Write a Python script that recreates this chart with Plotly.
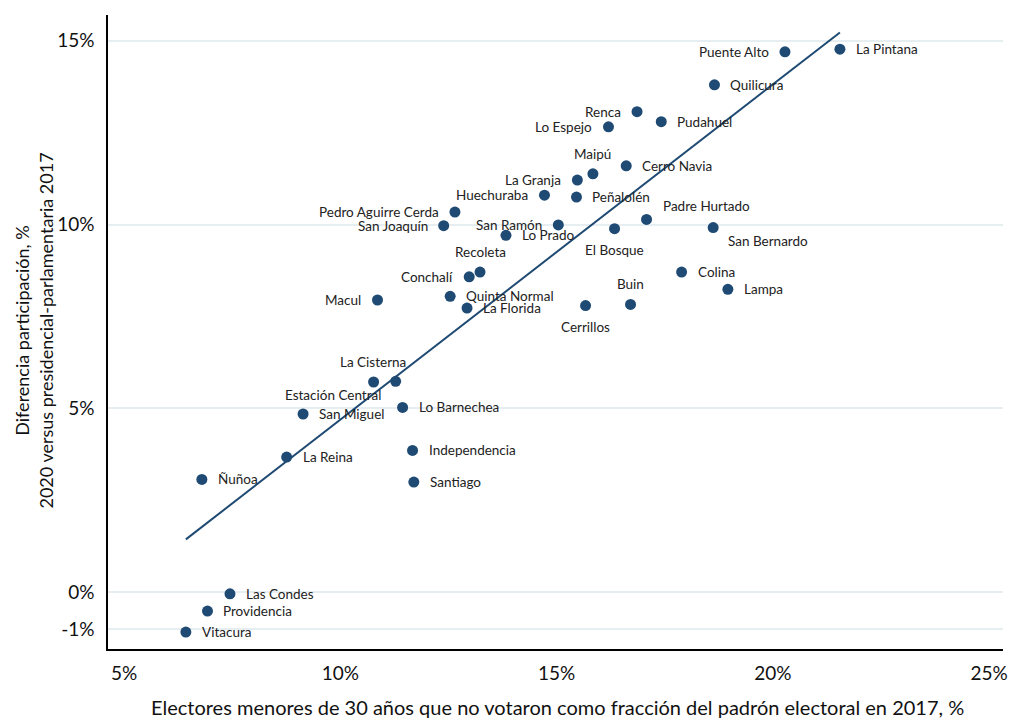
import numpy as np
import plotly.graph_objects as go

# Comunas de la Región Metropolitana
comunas = [
    "La Pintana", "Puente Alto", "Quilicura", "Renca", "Pudahuel", "Lo Espejo",
    "Cerro Navia", "Maipú", "La Granja", "Huechuraba", "Peñalolén",
    "Pedro Aguirre Cerda", "San Joaquín", "San Ramón", "Lo Prado", "El Bosque",
    "Padre Hurtado", "San Bernardo", "Recoleta", "Conchalí", "Macul",
    "Quinta Normal", "La Florida", "Cerrillos", "Buin", "Colina", "Lampa",
    "Estación Central", "La Cisterna", "Lo Barnechea", "San Miguel", "La Reina",
    "Ñuñoa", "Independencia", "Santiago", "Las Condes", "Providencia", "Vitacura",
]

# Electores menores de 30 años que no votaron (% del padrón 2017)
no_votaron_jovenes = [
    21.55, 20.28, 18.65, 16.86, 17.42, 16.20,
    16.61, 15.84, 15.48, 14.72, 15.46,
    12.65, 12.39, 15.04, 13.83, 16.34,
    17.08, 18.62, 13.23, 12.98, 10.86,
    12.54, 12.93, 15.67, 16.71, 17.89, 18.96,
    10.77, 11.28, 11.44, 9.14, 8.76,
    6.80, 11.67, 11.70, 7.45, 6.93, 6.43,
]

# Diferencia de participación 2020 vs 2017 (%)
dif_participacion = [
    14.77, 14.70, 13.80, 13.07, 12.80, 12.66,
    11.60, 11.38, 11.21, 10.80, 10.75,
    10.34, 9.97, 9.99, 9.71, 9.89,
    10.14, 9.92, 8.71, 8.58, 7.95,
    8.05, 7.73, 7.80, 7.83, 8.71, 8.24,
    5.72, 5.74, 5.03, 4.85, 3.68,
    3.07, 3.86, 3.00, -0.04, -0.51, -1.08,
]

x_ticks = [5, 10, 15, 20, 25]
y_ticks = [-1, 0, 5, 10, 15]

# label placement: (anchor, xshift px, yshift px)
R = ("left", 14, 0)
L = ("right", -14, 0)
T = ("center", 0, 20)
B = ("center", 0, -21)
posiciones = {
    "La Pintana": R, "Puente Alto": L, "Quilicura": R, "Renca": L,
    "Pudahuel": R, "Lo Espejo": L, "Cerro Navia": R, "Maipú": T,
    "La Granja": L, "Huechuraba": L, "Peñalolén": R,
    "Pedro Aguirre Cerda": L, "San Joaquín": L, "San Ramón": L,
    "Lo Prado": R, "El Bosque": B, "Padre Hurtado": ("left", 14, 13),
    "San Bernardo": ("left", 13, -13), "Recoleta": T, "Conchalí": L,
    "Macul": L, "Quinta Normal": R, "La Florida": R, "Cerrillos": B,
    "Buin": T, "Colina": R, "Lampa": R,
    "Estación Central": ("right", 9, -13), "La Cisterna": ("center", -23, 19),
    "Lo Barnechea": R, "San Miguel": R, "La Reina": R, "Ñuñoa": R,
    "Independencia": R, "Santiago": R, "Las Condes": R, "Providencia": R,
    "Vitacura": R,
}

azul = "#1F4A73"
fuente = "Lato, 'Open Sans', sans-serif"

# linear trend over the observed range
x_arr = np.array(no_votaron_jovenes)
y_arr = np.array(dif_participacion)
pendiente, intercepto = np.polyfit(x_arr, y_arr, 1)
x_linea = np.array([x_arr.min(), x_arr.max()])
y_linea = intercepto + pendiente * x_linea

fig = go.Figure()
fig.add_trace(go.Scatter(
    x=x_linea, y=y_linea, mode="lines",
    line=dict(color=azul, width=2), hoverinfo="skip", showlegend=False,
))
fig.add_trace(go.Scatter(
    x=no_votaron_jovenes, y=dif_participacion, mode="markers",
    marker=dict(color=azul, size=11), text=comunas,
    hovertemplate="%{text}<br>%{x:.1f}%, %{y:.1f}%<extra></extra>",
    showlegend=False,
))

anotaciones = []
for nombre, xv, yv in zip(comunas, no_votaron_jovenes, dif_participacion):
    anc, dx, dy = posiciones[nombre]
    anotaciones.append(dict(
        x=xv, y=yv, xref="x", yref="y", text=nombre, showarrow=False,
        xanchor=anc, yanchor="middle", xshift=dx, yshift=dy,
        font=dict(family=fuente, size=13.5, color="#222222"),
    ))

anotaciones.append(dict(
    x=0.5017, y=-0.091, xref="paper", yref="paper",
    text="Electores menores de 30 años que no votaron como fracción del padrón electoral en 2017, %",
    showarrow=False, xanchor="center", yanchor="middle",
    font=dict(family=fuente, size=20, color="#111111"),
))
anotaciones.append(dict(
    x=-0.0833, y=0.503, xref="paper", yref="paper",
    text="Diferencia participación, %<br>2020 versus presidencial-parlamentaria 2017",
    showarrow=False, xanchor="center", yanchor="middle", textangle=-90,
    align="center",
    font=dict(family=fuente, size=18, color="#111111"),
))

fig.update_layout(
    width=1011, height=719,
    margin=dict(l=108, r=3, t=15, b=70),
    paper_bgcolor="white", plot_bgcolor="white",
    font=dict(family=fuente, color="#111111"),
    annotations=anotaciones,
    xaxis=dict(
        range=[4.63, 25.32], tickvals=x_ticks,
        ticktext=[f"{v}%" for v in x_ticks],
        showgrid=False, zeroline=False,
        showline=True, linecolor="black", linewidth=1.5,
        ticks="", ticklabelstandoff=6, ticklabeloverflow="allow",
        tickfont=dict(family=fuente, size=19, color="#111111"),
    ),
    yaxis=dict(
        range=[-1.54, 15.70], tickvals=y_ticks,
        ticktext=[f"{v}%" for v in y_ticks],
        showgrid=True, gridcolor="#E6EEF2", gridwidth=2,
        zeroline=False,
        showline=True, linecolor="black", linewidth=1.5,
        ticks="", ticklabelstandoff=8,
        tickfont=dict(family=fuente, size=19, color="#111111"),
    ),
)

fig.write_html("out.html")
